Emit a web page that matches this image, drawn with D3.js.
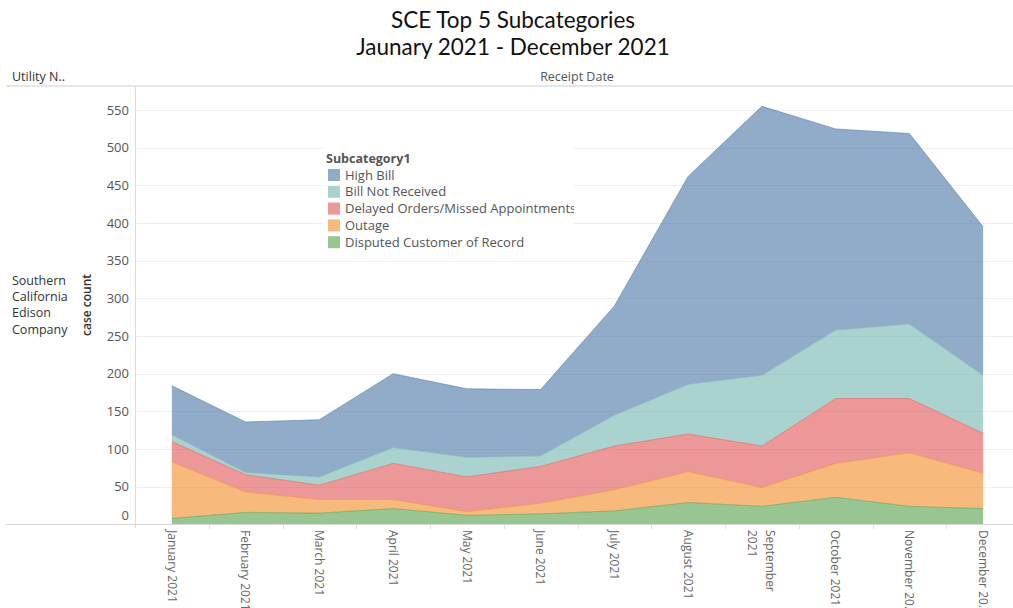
<!DOCTYPE html>
<html>
<head>
<meta charset="utf-8">
<script src="https://cdn.jsdelivr.net/npm/d3@7"></script>
<style>
  body { margin: 0; background: #fff; }
  svg { display: block; font-family: "Open Sans", sans-serif; }
</style>
</head>
<body>
<svg id="chart" width="1013" height="608"></svg>
<script>
// months on the x axis and their header labels
const months = ["Jan", "Feb", "Mar", "Apr", "May", "Jun", "Jul", "Aug", "Sep", "Oct", "Nov", "Dec"];
const monthLabels = ["January 2021", "February 2021", "March 2021", "April 2021", "May 2021", "June 2021",
    "July 2021", "August 2021", "September|2021", "October 2021", "November 20..", "December 20.."];

// case counts per subcategory
const disputed = [8, 16, 15, 21, 12, 14, 18, 29, 24, 36, 24, 21];
const outage = [75, 27, 18, 12, 5, 14, 28, 41, 25, 45, 71, 47];
const delayed = [27, 23, 19, 48, 46, 49, 58, 50, 55, 86, 72, 53];
const billNotReceived = [9, 3, 11, 21, 26, 14, 41, 66, 94, 91, 99, 77];
const highBill = [65, 67, 76, 98, 91, 88, 145, 276, 357, 267, 253, 197];

const yTicks = [0, 50, 100, 150, 200, 250, 300, 350, 400, 450, 500, 550];

// stack order bottom -> top
const series = [
    { key: "Disputed Customer of Record", values: disputed, color: "#59a14f" },
    { key: "Outage", values: outage, color: "#f28e2b" },
    { key: "Delayed Orders/Missed Appointments", values: delayed, color: "#e15759" },
    { key: "Bill Not Received", values: billNotReceived, color: "#76b7b2" },
    { key: "High Bill", values: highBill, color: "#4e79a7" }
];

const rows = months.map((m, i) => {
    const r = { month: m };
    series.forEach(s => r[s.key] = s.values[i]);
    return r;
});

const svg = d3.select("#chart");

// Titles
svg.append("text").attr("x", 513).attr("y", 28).attr("text-anchor", "middle")
    .attr("font-family", "Lato").attr("font-size", 22.5).attr("fill", "#111")
    .text("SCE Top 5 Subcategories");
svg.append("text").attr("x", 513).attr("y", 55).attr("text-anchor", "middle")
    .attr("font-family", "Lato").attr("font-size", 22.5).attr("fill", "#111")
    .text("Jaunary 2021 - December 2021");

// Header row
svg.append("text").attr("x", 12).attr("y", 81).attr("font-size", 12.5).attr("fill", "#333")
    .text("Utility N..");
svg.append("text").attr("x", 577).attr("y", 81).attr("text-anchor", "middle")
    .attr("font-size", 12.5).attr("fill", "#555").text("Receipt Date");
svg.append("rect").attr("x", 6).attr("y", 85).attr("width", 1007).attr("height", 2).attr("fill", "#e6e6e6");

// Scales
const x = d3.scaleBand().domain(months).range([135, 1020]).padding(0);
const cx = m => x(m) + x.bandwidth() / 2;
const y = d3.scaleLinear().domain([0, 550]).range([524.4, 110.1]);

// Gridlines
svg.append("g").selectAll("line").data(yTicks.slice(1)).enter().append("line")
    .attr("x1", 135).attr("x2", 1013)
    .attr("y1", d => Math.round(y(d)) + 0.5).attr("y2", d => Math.round(y(d)) + 0.5)
    .attr("stroke", "#efefef").attr("stroke-width", 1);

// Stacked areas
const stack = d3.stack().keys(series.map(s => s.key));
const layers = stack(rows);

const area = d3.area()
    .x(d => cx(d.data.month))
    .y0(d => y(d[0]))
    .y1(d => y(d[1]));
const topLine = d3.line()
    .x(d => cx(d.data.month))
    .y(d => y(d[1]));

svg.append("g").selectAll("path").data(layers).enter().append("path")
    .attr("d", area)
    .attr("fill", (d, i) => series[i].color)
    .attr("fill-opacity", 0.62);

svg.append("g").selectAll("path").data(layers).enter().append("path")
    .attr("d", topLine)
    .attr("fill", "none")
    .attr("stroke", (d, i) => series[i].color)
    .attr("stroke-opacity", 0.55)
    .attr("stroke-width", 1);

// Axis lines
svg.append("line").attr("x1", 135.5).attr("x2", 135.5).attr("y1", 87).attr("y2", 528)
    .attr("stroke", "#dcdcdc");
svg.append("line").attr("x1", 6).attr("x2", 1013).attr("y1", 524.5).attr("y2", 524.5)
    .attr("stroke", "#d9d9d9");

// Y axis labels
const yAxis = d3.axisLeft(y).tickValues(yTicks).tickSize(0).tickPadding(0);
const yg = svg.append("g").attr("transform", "translate(129,0)").call(yAxis);
yg.select(".domain").remove();
yg.selectAll("text").attr("font-family", "Open Sans").attr("font-size", 13).attr("fill", "#555")
    .attr("dy", d => d === 0 ? "-0.35em" : "0.32em");

svg.append("text").attr("transform", "translate(91,305) rotate(-90)").attr("text-anchor", "middle")
    .attr("font-size", 12).attr("font-weight", 600).attr("fill", "#333").text("case count");

// Row header
const rowHeader = ["Southern", "California", "Edison", "Company"];
svg.append("g").selectAll("text").data(rowHeader).enter().append("text")
    .attr("x", 12).attr("y", (d, i) => 285 + i * 16.2)
    .attr("font-size", 12.5).attr("fill", "#333").text(d => d);

// X column ticks
svg.append("g").selectAll("line").data(months.slice(1)).enter().append("line")
    .attr("x1", d => Math.round(x(d)) + 0.5).attr("x2", d => Math.round(x(d)) + 0.5)
    .attr("y1", 525).attr("y2", 529).attr("stroke", "#e0e0e0");

// X labels (rotated)
const xl = svg.append("g").selectAll("text").data(months).enter().append("text")
    .attr("transform", d => `translate(${cx(d)},530) rotate(90)`)
    .attr("font-size", 12).attr("fill", "#666");
xl.each(function(d, i) {
    const parts = monthLabels[i].split("|");
    const t = d3.select(this);
    if (parts.length === 1) {
        t.append("tspan").attr("x", 0).attr("dy", "0.35em").text(parts[0]);
    } else {
        t.append("tspan").attr("x", 0).attr("y", -4.5).text(parts[0]);
        t.append("tspan").attr("x", 0).attr("y", 13.5).text(parts[1]);
    }
});

// Legend
const legend = svg.append("g");
legend.append("rect").attr("x", 323).attr("y", 145).attr("width", 251).attr("height", 107).attr("fill", "#fff");
const lg = legend.append("svg").attr("x", 323).attr("y", 145).attr("width", 251).attr("height", 107);
lg.append("text").attr("x", 3).attr("y", 18).attr("font-size", 12.5).attr("font-weight", 700)
    .attr("fill", "#555").text("Subcategory1");
const items = series.slice().reverse();
const li = lg.selectAll("g.item").data(items).enter().append("g").attr("class", "item")
    .attr("transform", (d, i) => `translate(5,${24 + i * 16.8})`);
li.append("rect").attr("width", 12).attr("height", 12).attr("fill", d => d.color).attr("fill-opacity", 0.62);
li.append("text").attr("x", 17).attr("y", 10.5).attr("font-size", 13).attr("fill", "#555").text(d => d.key);
</script>
</body>
</html>
